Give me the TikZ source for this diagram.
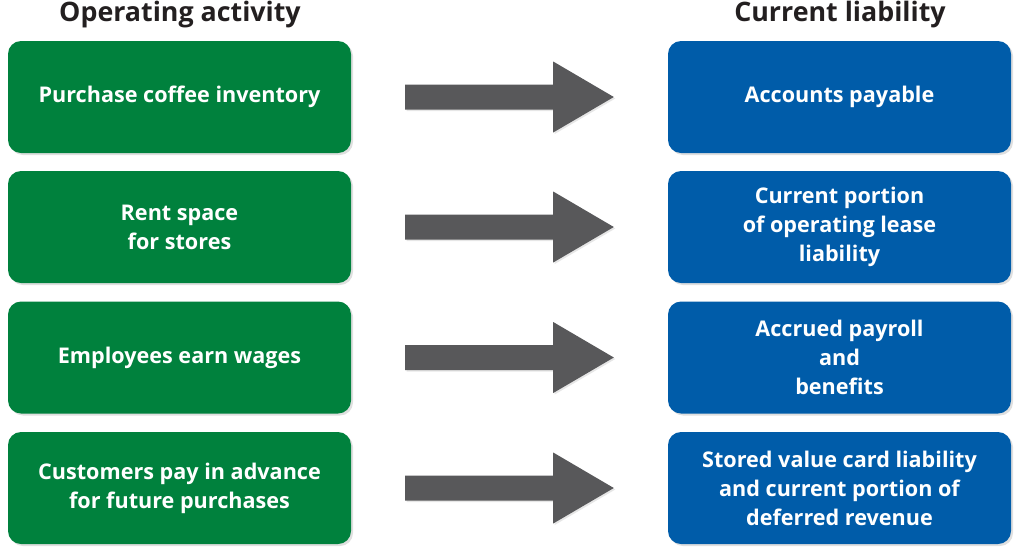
\documentclass[tikz,border=0pt]{standalone}
\usepackage{fontspec}
\setmainfont{Open Sans}
\usetikzlibrary{shadows,calc}
\definecolor{boxgreen}{HTML}{00813D}
\definecolor{boxblue}{HTML}{005CA9}
\definecolor{arrowgray}{HTML}{58585A}
\definecolor{titleink}{HTML}{231F20}
\begin{document}
\begin{tikzpicture}[x=1pt,y=-1pt,
  box/.style={rounded corners=13pt, minimum width=343pt, minimum height=112pt,
    text=white, font=\fontsize{21.6}{29}\selectfont\bfseries, align=center, inner sep=0pt,
    drop shadow={shadow xshift=2pt, shadow yshift=-2pt, opacity=0.25}},
  gbox/.style={box, fill=boxgreen},
  bbox/.style={box, fill=boxblue},
  title/.style={text=titleink, font=\fontsize{26.8}{30}\selectfont\bfseries, inner sep=0pt},
  bigarrow/.style={fill=arrowgray, drop shadow={shadow xshift=1.5pt, shadow yshift=-1.5pt, opacity=0.2}}]
\useasboundingbox (0,0) rectangle (1032,555);
\node[title] (t1) at (180,15) {Operating activity};
\node[title] (t2) at (840,15) {Current liability};
\node[gbox] (g1) at (179.5,97) {Purchase coffee inventory};
\node[gbox] (g2) at (179.5,227) {Rent space\\for stores};
\node[gbox] (g3) at (179.5,357.5) {Employees earn wages};
\node[gbox] (g4) at (179.5,488) {Customers pay in advance\\for future purchases};
\node[bbox] (b1) at (839.5,97) {Accounts payable};
\node[bbox] (b2) at (839.5,227) {Current portion\\of operating lease\\liability};
\node[bbox] (b3) at (839.5,357.5) {Accrued payroll\\and\\benefits};
\node[bbox] (b4) at (839.5,488) {Stored value card liability\\and current portion of\\deferred revenue};
\foreach \i in {1,2,3,4}{
  \coordinate (s\i) at ($(g\i.east)+(54,0)$);
  \coordinate (e\i) at ($(b\i.west)+(-54,0)$);
  \path[bigarrow] ($(s\i)+(0,-12.5)$) -- ($(s\i)+(148,-12.5)$) -- ($(s\i)+(148,-35.5)$)
     -- (e\i) -- ($(s\i)+(148,35.5)$) -- ($(s\i)+(148,12.5)$) -- ($(s\i)+(0,12.5)$) -- cycle;
}
\end{tikzpicture}
\end{document}
